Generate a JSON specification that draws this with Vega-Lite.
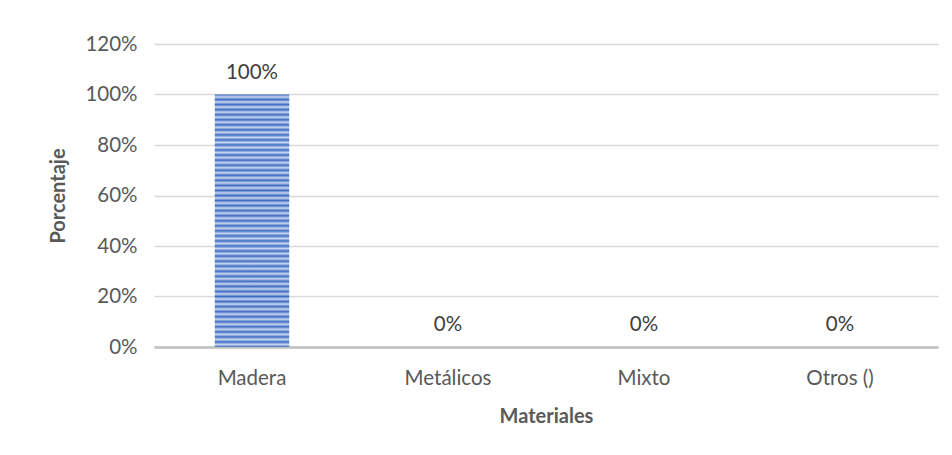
{
  "$schema": "https://vega.github.io/schema/vega-lite/v6.json",
  "width": 784,
  "height": 303,
  "autosize": {"type": "none"},
  "padding": {"left": 154, "top": 44, "right": 14, "bottom": 108},
  "background": "white",
  "config": {
    "view": {"stroke": null},
    "font": "Lato",
    "axis": {"labelFont": "Lato", "titleFont": "Lato", "labelColor": "#595959", "titleColor": "#595959", "labelFontSize": 20.5, "titleFontSize": 20, "titleFontWeight": "bold"}
  },
  "data": {
    "values": [
      {"material": "Madera", "pct": 1.0},
      {"material": "Metálicos", "pct": 0},
      {"material": "Mixto", "pct": 0},
      {"material": "Otros ()", "pct": 0}
    ]
  },
  "encoding": {
    "x": {
      "field": "material", "type": "nominal", "sort": null,
      "scale": {"paddingInner": 0.62, "paddingOuter": 0.31},
      "axis": {"title": "Materiales", "labelAngle": 0, "ticks": false, "labelPadding": 21, "titlePadding": 18, "domainColor": "#BFBFBF", "domainWidth": 2.5, "grid": false}
    },
    "y": {
      "field": "pct", "type": "quantitative",
      "scale": {"domain": [0, 1.2]},
      "axis": {"title": "Porcentaje", "format": ".0%", "values": [0, 0.2, 0.4, 0.6, 0.8, 1.0, 1.2], "ticks": false, "domain": false, "labelPadding": 17, "titlePadding": 16, "gridColor": "#D9D9D9", "gridWidth": 1.3}
    }
  },
  "layer": [
    {
      "mark": {
        "type": "bar",
        "fill": {
          "gradient": "linear", "x1": 0, "y1": 0, "x2": 0, "y2": 1,
          "stops": [
            {"offset": 0.00, "color": "#3F6DC2"}, {"offset": 0.01, "color": "#C8D6F0"},
            {"offset": 0.02, "color": "#3F6DC2"}, {"offset": 0.03, "color": "#C8D6F0"},
            {"offset": 0.04, "color": "#3F6DC2"}, {"offset": 0.05, "color": "#C8D6F0"},
            {"offset": 0.06, "color": "#3F6DC2"}, {"offset": 0.07, "color": "#C8D6F0"},
            {"offset": 0.08, "color": "#3F6DC2"}, {"offset": 0.09, "color": "#C8D6F0"},
            {"offset": 0.10, "color": "#3F6DC2"}, {"offset": 0.11, "color": "#C8D6F0"},
            {"offset": 0.12, "color": "#3F6DC2"}, {"offset": 0.13, "color": "#C8D6F0"},
            {"offset": 0.14, "color": "#3F6DC2"}, {"offset": 0.15, "color": "#C8D6F0"},
            {"offset": 0.16, "color": "#3F6DC2"}, {"offset": 0.17, "color": "#C8D6F0"},
            {"offset": 0.18, "color": "#3F6DC2"}, {"offset": 0.19, "color": "#C8D6F0"},
            {"offset": 0.20, "color": "#3F6DC2"}, {"offset": 0.21, "color": "#C8D6F0"},
            {"offset": 0.22, "color": "#3F6DC2"}, {"offset": 0.23, "color": "#C8D6F0"},
            {"offset": 0.24, "color": "#3F6DC2"}, {"offset": 0.25, "color": "#C8D6F0"},
            {"offset": 0.26, "color": "#3F6DC2"}, {"offset": 0.27, "color": "#C8D6F0"},
            {"offset": 0.28, "color": "#3F6DC2"}, {"offset": 0.29, "color": "#C8D6F0"},
            {"offset": 0.30, "color": "#3F6DC2"}, {"offset": 0.31, "color": "#C8D6F0"},
            {"offset": 0.32, "color": "#3F6DC2"}, {"offset": 0.33, "color": "#C8D6F0"},
            {"offset": 0.34, "color": "#3F6DC2"}, {"offset": 0.35, "color": "#C8D6F0"},
            {"offset": 0.36, "color": "#3F6DC2"}, {"offset": 0.37, "color": "#C8D6F0"},
            {"offset": 0.38, "color": "#3F6DC2"}, {"offset": 0.39, "color": "#C8D6F0"},
            {"offset": 0.40, "color": "#3F6DC2"}, {"offset": 0.41, "color": "#C8D6F0"},
            {"offset": 0.42, "color": "#3F6DC2"}, {"offset": 0.43, "color": "#C8D6F0"},
            {"offset": 0.44, "color": "#3F6DC2"}, {"offset": 0.45, "color": "#C8D6F0"},
            {"offset": 0.46, "color": "#3F6DC2"}, {"offset": 0.47, "color": "#C8D6F0"},
            {"offset": 0.48, "color": "#3F6DC2"}, {"offset": 0.49, "color": "#C8D6F0"},
            {"offset": 0.50, "color": "#3F6DC2"}, {"offset": 0.51, "color": "#C8D6F0"},
            {"offset": 0.52, "color": "#3F6DC2"}, {"offset": 0.53, "color": "#C8D6F0"},
            {"offset": 0.54, "color": "#3F6DC2"}, {"offset": 0.55, "color": "#C8D6F0"},
            {"offset": 0.56, "color": "#3F6DC2"}, {"offset": 0.57, "color": "#C8D6F0"},
            {"offset": 0.58, "color": "#3F6DC2"}, {"offset": 0.59, "color": "#C8D6F0"},
            {"offset": 0.60, "color": "#3F6DC2"}, {"offset": 0.61, "color": "#C8D6F0"},
            {"offset": 0.62, "color": "#3F6DC2"}, {"offset": 0.63, "color": "#C8D6F0"},
            {"offset": 0.64, "color": "#3F6DC2"}, {"offset": 0.65, "color": "#C8D6F0"},
            {"offset": 0.66, "color": "#3F6DC2"}, {"offset": 0.67, "color": "#C8D6F0"},
            {"offset": 0.68, "color": "#3F6DC2"}, {"offset": 0.69, "color": "#C8D6F0"},
            {"offset": 0.70, "color": "#3F6DC2"}, {"offset": 0.71, "color": "#C8D6F0"},
            {"offset": 0.72, "color": "#3F6DC2"}, {"offset": 0.73, "color": "#C8D6F0"},
            {"offset": 0.74, "color": "#3F6DC2"}, {"offset": 0.75, "color": "#C8D6F0"},
            {"offset": 0.76, "color": "#3F6DC2"}, {"offset": 0.77, "color": "#C8D6F0"},
            {"offset": 0.78, "color": "#3F6DC2"}, {"offset": 0.79, "color": "#C8D6F0"},
            {"offset": 0.80, "color": "#3F6DC2"}, {"offset": 0.81, "color": "#C8D6F0"},
            {"offset": 0.82, "color": "#3F6DC2"}, {"offset": 0.83, "color": "#C8D6F0"},
            {"offset": 0.84, "color": "#3F6DC2"}, {"offset": 0.85, "color": "#C8D6F0"},
            {"offset": 0.86, "color": "#3F6DC2"}, {"offset": 0.87, "color": "#C8D6F0"},
            {"offset": 0.88, "color": "#3F6DC2"}, {"offset": 0.89, "color": "#C8D6F0"},
            {"offset": 0.90, "color": "#3F6DC2"}, {"offset": 0.91, "color": "#C8D6F0"},
            {"offset": 0.92, "color": "#3F6DC2"}, {"offset": 0.93, "color": "#C8D6F0"},
            {"offset": 0.94, "color": "#3F6DC2"}, {"offset": 0.95, "color": "#C8D6F0"},
            {"offset": 0.96, "color": "#3F6DC2"}, {"offset": 0.97, "color": "#C8D6F0"},
            {"offset": 0.98, "color": "#3F6DC2"}, {"offset": 0.99, "color": "#C8D6F0"},
            {"offset": 1.00, "color": "#3F6DC2"}
          ]
        }
      }
    },
    {
      "mark": {"type": "text", "baseline": "bottom", "dy": -12, "fontSize": 20.5, "color": "#404040", "font": "Lato"},
      "encoding": {"text": {"field": "pct", "type": "quantitative", "format": ".0%"}}
    }
  ]
}
